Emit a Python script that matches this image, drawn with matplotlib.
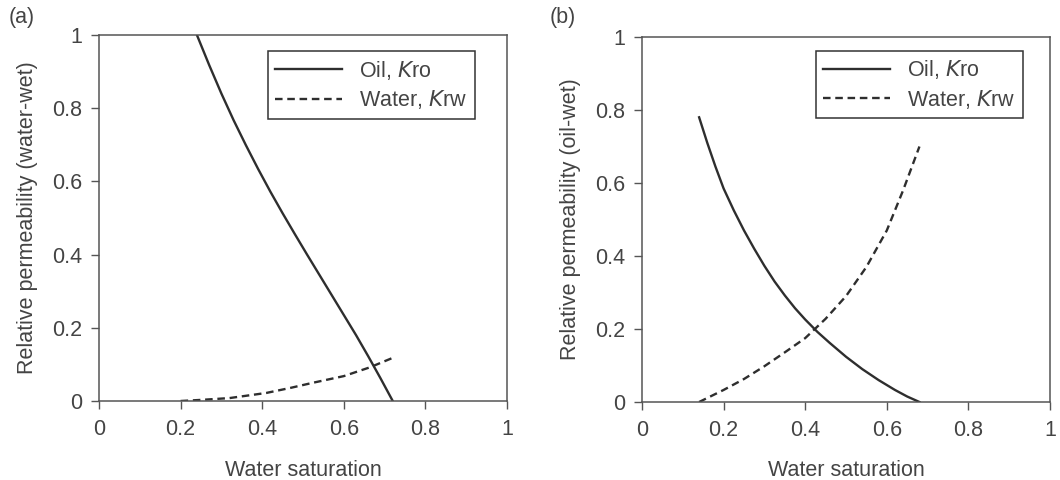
import matplotlib
matplotlib.use("Agg")
import matplotlib.pyplot as plt

plt.rcParams['font.family'] = ['Liberation Sans', 'DejaVu Sans']

# Panel (a) water-wet
a_sw_oil = [0.24, 0.27, 0.30, 0.33, 0.36, 0.39, 0.42, 0.45, 0.48, 0.51, 0.54, 0.57, 0.60, 0.63, 0.66, 0.69, 0.72]
a_kro    = [1.00, 0.918, 0.84, 0.767, 0.699, 0.634, 0.572, 0.513, 0.456, 0.40, 0.345, 0.29, 0.235, 0.18, 0.122, 0.062, 0.00]
a_sw_wat = [0.20, 0.25, 0.32, 0.41, 0.47, 0.525, 0.60, 0.664, 0.718]
a_krw    = [0.00, 0.003, 0.008, 0.022, 0.036, 0.050, 0.068, 0.092, 0.117]

# Panel (b) oil-wet
b_sw_oil = [0.14, 0.16, 0.18, 0.20, 0.225, 0.25, 0.275, 0.30, 0.325, 0.35, 0.375, 0.40, 0.43, 0.46, 0.50, 0.54, 0.58, 0.62, 0.65, 0.68]
b_kro    = [0.78, 0.71, 0.645, 0.585, 0.525, 0.47, 0.42, 0.373, 0.33, 0.292, 0.257, 0.226, 0.192, 0.162, 0.124, 0.09, 0.06, 0.033, 0.015, 0.00]
b_sw_wat = [0.14, 0.20, 0.25, 0.30, 0.35, 0.40, 0.45, 0.50, 0.55, 0.60, 0.64, 0.66, 0.68]
b_krw    = [0.00, 0.033, 0.063, 0.098, 0.136, 0.175, 0.228, 0.29, 0.37, 0.47, 0.58, 0.64, 0.70]

ticks = [0, 0.2, 0.4, 0.6, 0.8, 1]
tick_labels = ["0", "0.2", "0.4", "0.6", "0.8", "1"]

W, H = 1060, 480
fig = plt.figure(figsize=(W/100, H/100), dpi=100)

txt = '#444444'
line_c = '#2e2e2e'
FS = 15.5

def make(ax_rect, xs_o, yo, xs_w, yw, ylabel, tag, tag_x, leg_xy):
    l, t, r, b = ax_rect
    ax = fig.add_axes([l/W, 1-b/H, (r-l)/W, (b-t)/H])
    ax.plot(xs_o, yo, color=line_c, lw=1.7, ls='-', label='Oil, $\\mathit{K}$ro')
    ax.plot(xs_w, yw, color=line_c, lw=1.7, ls=(0, (3.2, 2.0)), label='Water, $\\mathit{K}$rw')
    ax.set_xlim(0, 1)
    ax.set_ylim(0, 1)
    ax.set_xticks(ticks)
    ax.set_xticklabels(tick_labels)
    ax.set_yticks(ticks)
    ax.set_yticklabels(tick_labels)
    ax.tick_params(direction='out', length=6, width=1, colors='#555555', labelcolor=txt, labelsize=FS)
    ax.tick_params(axis='x', pad=7)
    ax.tick_params(axis='y', pad=6)
    for s in ax.spines.values():
        s.set_color('#555555')
        s.set_linewidth(1.1)
    ax.set_xlabel('Water saturation', fontsize=FS, color=txt, labelpad=14)
    ax.set_ylabel(ylabel, fontsize=FS, color=txt, labelpad=10)
    leg = ax.legend(loc='upper left', bbox_to_anchor=leg_xy, borderaxespad=0, fontsize=FS, frameon=True,
                    fancybox=False, edgecolor='#333333', handlelength=3.1, handletextpad=0.8,
                    borderpad=0.35, labelspacing=0.3, framealpha=1)
    leg.get_frame().set_linewidth(1.1)
    for tx in leg.get_texts():
        tx.set_color(txt)
    fig.text(tag_x/W, 1-18/H, tag, fontsize=FS, color=txt, va='center', ha='left')
    return ax

make((99, 35, 507, 401), a_sw_oil, a_kro, a_sw_wat, a_krw,
     'Relative permeability (water-wet)', '(a)', 9, (0.414, 0.956))
make((642, 37, 1050, 402), b_sw_oil, b_kro, b_sw_wat, b_krw,
     'Relative permeability (oil-wet)', '(b)', 550, (0.426, 0.962))

fig.savefig('out.png', dpi=100)
